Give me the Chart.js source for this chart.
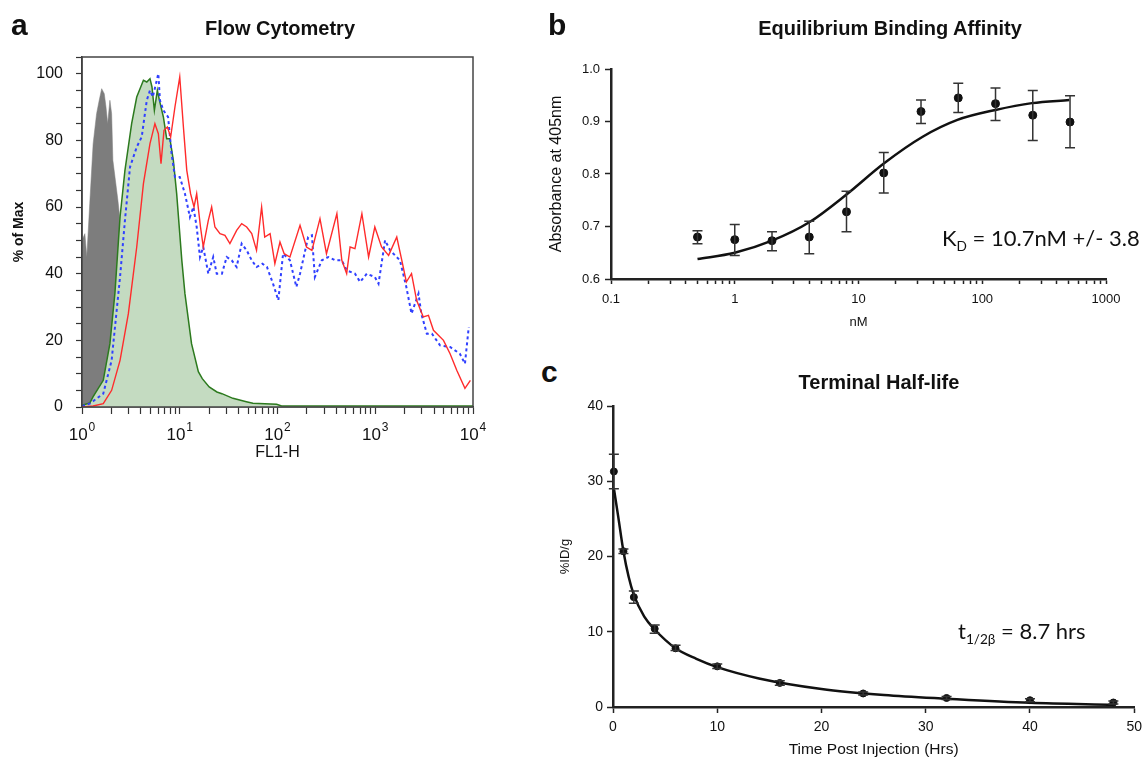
<!DOCTYPE html>
<html>
<head>
<meta charset="utf-8">
<title>Flow cytometry, binding affinity and half-life</title>
<script src="https://cdn.jsdelivr.net/npm/chart.js@4.4.0/dist/chart.umd.min.js"></script>
<style>
  body { margin: 0; background: #fff; }
  #page { position: relative; width: 1148px; height: 761px; overflow: hidden;
          font-family: "Liberation Sans", Arial, sans-serif; color: #111; }
  canvas { position: absolute; }
  .lbl { position: absolute; line-height: 1; white-space: nowrap; z-index: 2; }
  .letter { font-weight: bold; font-size: 30px; }
  .title { font-weight: bold; font-size: 20px; transform: translateX(-50%); }
  .note { font-family: Lato, "Open Sans", sans-serif; font-size: 22px; }
  .note sub { font-size: 62%; vertical-align: -0.35em; line-height: 0; }
</style>
</head>
<body>
<div id="page">
  <canvas id="flowChart" width="500" height="480" style="left:0;top:0;width:500px;height:480px"></canvas>
  <canvas id="bindChart" width="608" height="340" style="left:540px;top:0;width:608px;height:340px"></canvas>
  <canvas id="halfChart" width="608" height="371" style="left:540px;top:390px;width:608px;height:371px"></canvas>

  <div class="lbl letter" style="left:11px;top:10px">a</div>
  <div class="lbl title" style="left:280px;top:18px">Flow Cytometry</div>
  <div class="lbl letter" style="left:548px;top:10px">b</div>
  <div class="lbl title" style="left:890px;top:18px">Equilibrium Binding Affinity</div>
  <div class="lbl letter" style="left:541px;top:357px">c</div>
  <div class="lbl title" style="left:879px;top:372px">Terminal Half-life</div>
  <div class="lbl note" style="left:942px;top:227px">K<sub>D</sub> = 10.7nM +/- 3.8</div>
  <div class="lbl note" style="left:958px;top:620px">t<sub>1/2β</sub> = 8.7 hrs</div>
</div>

<script>
// ---- panel a: flow cytometry histograms (x = FL1-H, y = % of max)
const grayX = [1.0, 1.07, 1.12, 1.2, 1.3, 1.41, 1.5, 1.59, 1.69, 1.76, 1.83, 1.93, 2.01, 2.07, 2.33, 2.75, 3.1, 3.5, 3.9, 4.4];
const grayY = [50, 52, 45, 61, 79, 88, 92, 95.5, 94, 90, 85, 92, 88, 74, 62, 42, 22, 8, 2, 0];

const greenX = [1.0, 1.2, 1.3, 1.65, 1.93, 2.17, 2.45, 2.75, 3.22, 3.63, 4.25, 4.6, 4.96, 5.2, 5.5, 5.9, 6.2, 6.8, 7.35, 7.93, 8.6, 9.3,
                10, 10.5, 11.3, 13.2, 15.5, 17, 20, 24, 27, 35, 48, 56, 98, 110, 10000];
const greenY = [0.5, 1.2, 3.1, 8, 19, 34, 57, 71, 85, 93, 98, 97.5, 98.5, 96, 89, 95, 92, 87, 80.5, 80.5, 74, 64,
                52, 44, 34, 19, 10.6, 8.5, 6, 4.5, 4, 2.6, 1.6, 1.1, 0.8, 0.3, 0.3];

const blueX = [1.0, 1.2, 1.65, 2.01, 2.45, 2.75, 3.1, 3.63, 4.08, 4.6, 4.96, 5.3, 6.04, 6.27, 6.8, 7.6, 8.25, 8.93, 10, 11.3,
               12.7, 13.8, 14.9, 16.1, 17.4, 19.6, 22, 23.9, 27, 30.2, 34, 38.2, 43, 48.4, 54.5, 61, 70, 78, 90, 102,
               114, 134, 156, 170, 206, 225, 241, 284, 331, 390, 455, 510, 620, 700, 820, 990, 1080, 1260, 1420, 1790,
               2080, 2350, 2770, 2960, 3370, 3800, 4600, 5830, 7330, 8270, 9050];
const blueY = [0.3, 1, 4, 14, 39, 56, 72, 78, 81, 92, 95, 93, 100, 92, 89, 87, 76, 69, 69, 64,
               57, 60, 54, 45, 48, 40, 45, 40, 40, 45, 44, 42, 49, 47, 44, 42, 43, 42, 37, 32,
               46, 44, 36, 40, 51, 51.5, 39, 44, 45, 44, 44, 41, 40, 37.5, 40, 39, 37, 50, 47, 44,
               36, 28, 34, 28, 22, 22, 18.5, 18, 16, 13, 24];

const redX = [1.0, 1.3, 1.65, 2.01, 2.45, 2.98, 3.63, 4.25, 4.96, 5.57, 6.04, 6.43, 6.9, 7.47, 8.07, 8.93, 10, 10.9, 11.8, 12.9,
              14, 14.9, 16.3, 17.4, 19.6, 21.2, 22.9, 25.8, 29, 32.6, 38.2, 43, 48.4, 54.5, 61, 68.8, 74, 84, 94, 106,
              117, 134, 170, 198, 225, 272, 317, 405, 455, 510, 553, 620, 730, 855, 990, 1160, 1370, 1660, 1870, 2080,
              2350, 2650, 3100, 3500, 3940, 4990, 5830, 6820, 8270, 9400];
const redY = [0, 0.3, 1, 5, 14, 28, 48, 67, 79, 85, 82, 73, 83, 84, 81, 90, 99, 84, 71, 64,
              60, 64, 54, 48, 56, 60, 54, 52, 51.5, 49, 53, 55, 54, 52, 47, 60, 51, 52, 43, 49.5,
              46, 45, 54.5, 48, 47, 56.5, 46, 58, 44, 40, 48, 47.5, 58, 45, 54, 48, 45.5, 51, 44, 37.5,
              40, 32, 27, 27.5, 23, 20, 16, 11, 5.6, 8];

const flowDecades = [1, 10, 100, 1000, 10000];
const flowExponents = ['0', '1', '2', '3', '4'];

// ---- panel b: equilibrium binding (x = nM, y = absorbance at 405nm)
const bindX = [0.5, 1, 2, 4, 8, 16, 32, 64, 128, 256, 512];
const bindY = [0.680, 0.675, 0.673, 0.680, 0.728, 0.802, 0.919, 0.945, 0.934, 0.912, 0.899];
const bindLo = [0.667, 0.645, 0.654, 0.648, 0.690, 0.764, 0.896, 0.917, 0.902, 0.864, 0.850];
const bindHi = [0.692, 0.704, 0.690, 0.710, 0.767, 0.841, 0.941, 0.973, 0.964, 0.959, 0.949];
const bindFitX = [0.5, 1, 2, 4, 8, 16, 33, 63, 128, 252, 505];
const bindFitY = [0.638, 0.650, 0.673, 0.708, 0.761, 0.820, 0.871, 0.903, 0.922, 0.935, 0.941];
const bindDecades = [0.1, 1, 10, 100, 1000];
const bindDecadeLabels = ['0.1', '1', '10', '100', '1000'];

// ---- panel c: terminal half-life (x = hours, y = %ID/g)
const timeX = [0.083, 1, 2, 4, 6, 10, 16, 24, 32, 40, 48];
const idY = [31.3, 20.7, 14.6, 10.4, 7.8, 5.4, 3.2, 1.8, 1.2, 0.9, 0.6];
const idLo = [29.0, 20.4, 13.8, 9.8, 7.5, 5.1, 2.9, 1.6, 1.0, 0.7, 0.4];
const idHi = [33.6, 21.0, 15.4, 10.9, 8.2, 5.7, 3.5, 2.0, 1.4, 1.1, 0.8];
const idFitX = [0.1, 0.5, 1, 1.5, 2, 3, 4, 6, 8, 10, 14, 20, 26, 32, 40, 48];
const idFitY = [28.9, 25.3, 20.7, 17.3, 14.9, 12.0, 10.3, 7.8, 6.4, 5.3, 3.8, 2.4, 1.6, 1.1, 0.55, 0.3];

const FONT = '"Liberation Sans", Arial, sans-serif';
Chart.defaults.font.family = FONT;
Chart.defaults.color = '#111';

function pts(xs, ys) {
  return xs.map((x, i) => ({ x: x, y: ys[i] }));
}

// 1..9 per decade, for the log axes
function logTicks(lo, hi) {
  const t = [];
  for (let e = lo; e < hi; e++) {
    for (let m = 1; m < 10; m++) t.push(m * Math.pow(10, e));
  }
  t.push(Math.pow(10, hi));
  return t;
}

function errorBars(xs, lo, hi, cap) {
  return {
    id: 'errorBars',
    afterDatasetsDraw(chart) {
      const { ctx, scales: { x, y } } = chart;
      ctx.save();
      ctx.strokeStyle = '#333';
      ctx.lineWidth = 1.5;
      xs.forEach((xv, i) => {
        const px = x.getPixelForValue(xv);
        const top = y.getPixelForValue(hi[i]);
        const bot = y.getPixelForValue(lo[i]);
        ctx.beginPath();
        ctx.moveTo(px, top); ctx.lineTo(px, bot);
        ctx.moveTo(px - cap, top); ctx.lineTo(px + cap, top);
        ctx.moveTo(px - cap, bot); ctx.lineTo(px + cap, bot);
        ctx.stroke();
      });
      ctx.restore();
    }
  };
}

// box around the histogram plot
const frame = {
  id: 'frame',
  afterDraw(chart) {
    const { ctx, chartArea: a } = chart;
    ctx.save();
    ctx.strokeStyle = '#444';
    ctx.lineWidth = 1.5;
    ctx.strokeRect(a.left, a.top, a.right - a.left, a.bottom - a.top);
    ctx.restore();
  }
};

// "10" with a raised exponent under each decade tick
const powerLabels = {
  id: 'powerLabels',
  afterDraw(chart) {
    const { ctx, scales: { x } } = chart;
    const base = x.top + 33;
    ctx.save();
    ctx.fillStyle = '#111';
    ctx.textAlign = 'left';
    ctx.textBaseline = 'alphabetic';
    flowDecades.forEach((v, i) => {
      const px = x.getPixelForValue(v);
      ctx.font = '17px ' + FONT;
      const wb = ctx.measureText('10').width;
      ctx.font = '12px ' + FONT;
      const we = ctx.measureText(flowExponents[i]).width;
      const left = px - (wb + we + 1) / 2;
      ctx.font = '17px ' + FONT;
      ctx.fillText('10', left, base);
      ctx.font = '12px ' + FONT;
      ctx.fillText(flowExponents[i], left + wb + 1, base - 9);
    });
    ctx.restore();
  }
};

function initFlowChart() {
  const ctx = document.getElementById('flowChart');
  const xTicks = logTicks(0, 4);
  new Chart(ctx, {
    type: 'line',
    data: {
      datasets: [
        { label: 'Red', data: pts(redX, redY), borderColor: '#ff2b2b', borderWidth: 1.4,
          pointRadius: 0, fill: false, order: 0 },
        { label: 'Blue', data: pts(blueX, blueY), borderColor: '#3040ff', borderWidth: 2,
          borderDash: [3, 3], pointRadius: 0, fill: false, order: 1 },
        { label: 'Green', data: pts(greenX, greenY), borderColor: '#2c7a1e', borderWidth: 1.5,
          backgroundColor: '#c4dbc1', pointRadius: 0, fill: 'origin', order: 2 },
        { label: 'Gray', data: pts(grayX, grayY), borderColor: '#7d7d7d', borderWidth: 0.5,
          backgroundColor: '#7d7d7d', pointRadius: 0, fill: 'origin', order: 3 }
      ]
    },
    options: {
      responsive: false,
      animation: false,
      layout: { padding: { left: 0, top: 57, right: 27, bottom: 0 } },
      scales: {
        x: {
          type: 'logarithmic', min: 1, max: 10000,
          afterBuildTicks: s => { s.ticks = xTicks.map(v => ({ value: v })); },
          afterFit: s => { s.height = 73; },
          ticks: { autoSkip: false, maxRotation: 0, callback: () => '' },
          grid: { drawOnChartArea: false, tickLength: 7, tickColor: '#333', tickWidth: 1.2 },
          border: { color: '#333', width: 1.5 },
          title: { display: true, text: 'FL1-H', font: { size: 16 }, padding: { top: 0, bottom: 18 } }
        },
        y: {
          min: 0, max: 105,
          afterFit: s => { s.width = 82; },
          ticks: {
            stepSize: 5, autoSkip: false, includeBounds: false, padding: 13, font: { size: 16 },
            callback: v => (v % 20 === 0 ? v : '')
          },
          grid: { drawOnChartArea: false, tickLength: 6, tickColor: '#333', tickWidth: 1.2 },
          border: { color: '#333', width: 1.5 },
          title: { display: true, text: '% of Max', font: { size: 14, weight: 'bold' }, padding: { top: 11, bottom: 0 } }
        }
      },
      plugins: { legend: { display: false }, tooltip: { enabled: false } }
    },
    plugins: [frame, powerLabels]
  });
}

function initBindChart() {
  const ctx = document.getElementById('bindChart');
  const xTicks = logTicks(-1, 3);
  new Chart(ctx, {
    type: 'line',
    data: {
      datasets: [
        { label: 'Absorbance', data: pts(bindX, bindY), showLine: false, pointRadius: 4,
          pointBackgroundColor: '#111', pointBorderColor: '#111', clip: false },
        { label: 'Fit', data: pts(bindFitX, bindFitY), borderColor: '#111', borderWidth: 2.5,
          pointRadius: 0, tension: 0.4, cubicInterpolationMode: 'monotone' }
      ]
    },
    options: {
      responsive: false,
      animation: false,
      layout: { padding: { left: 0, top: 69, right: 42, bottom: 0 } },
      scales: {
        x: {
          type: 'logarithmic', min: 0.1, max: 1000,
          afterBuildTicks: s => { s.ticks = xTicks.map(v => ({ value: v })); },
          afterFit: s => { s.height = 61; },
          ticks: {
            autoSkip: false, maxRotation: 0, padding: 8, font: { size: 13 },
            callback: v => { const i = bindDecades.indexOf(v); return i < 0 ? '' : bindDecadeLabels[i]; }
          },
          grid: { drawOnChartArea: false, tickLength: 5, tickColor: '#222', tickWidth: 1.5 },
          border: { color: '#222', width: 2.5 },
          title: { display: true, text: 'nM', font: { size: 13 }, padding: { top: 0, bottom: 10 } }
        },
        y: {
          min: 0.6, max: 1.0,
          afterFit: s => { s.width = 71; },
          ticks: { stepSize: 0.1, padding: 5, font: { size: 13 }, callback: v => v.toFixed(1) },
          grid: { drawOnChartArea: false, tickLength: 6, tickColor: '#222', tickWidth: 1.5 },
          border: { color: '#222', width: 2.5 },
          title: { display: true, text: 'Absorbance at 405nm', font: { size: 16 }, padding: { top: 7, bottom: 0 } }
        }
      },
      plugins: { legend: { display: false }, tooltip: { enabled: false } }
    },
    plugins: [errorBars(bindX, bindLo, bindHi, 5)]
  });
}

function initHalfChart() {
  const ctx = document.getElementById('halfChart');
  new Chart(ctx, {
    type: 'line',
    data: {
      datasets: [
        { label: '%ID/g', data: pts(timeX, idY), showLine: false, pointRadius: 3.5,
          pointBackgroundColor: '#111', pointBorderColor: '#111', clip: false },
        { label: 'Fit', data: pts(idFitX, idFitY), borderColor: '#111', borderWidth: 2.5,
          pointRadius: 0, tension: 0.4, cubicInterpolationMode: 'monotone' }
      ]
    },
    options: {
      responsive: false,
      animation: false,
      layout: { padding: { left: 0, top: 16, right: 7, bottom: 0 } },
      scales: {
        x: {
          type: 'linear', min: 0, max: 50,
          afterFit: s => { s.height = 54; },
          ticks: { stepSize: 10, maxRotation: 0, padding: 6, font: { size: 14 } },
          grid: { drawOnChartArea: false, tickLength: 6, tickColor: '#222', tickWidth: 1.5 },
          border: { color: '#222', width: 2.5 },
          title: { display: true, text: 'Time Post Injection (Hrs)', font: { size: 15.5 }, padding: { top: 0, bottom: 2 } }
        },
        y: {
          min: 0, max: 40,
          afterFit: s => { s.width = 73; },
          ticks: { stepSize: 10, padding: 4, font: { size: 14 } },
          grid: { drawOnChartArea: false, tickLength: 6, tickColor: '#222', tickWidth: 1.5 },
          border: { color: '#222', width: 2.5 },
          title: { display: true, text: '%ID/g', font: { size: 13 }, padding: { top: 18, bottom: 0 } }
        }
      },
      plugins: { legend: { display: false }, tooltip: { enabled: false } }
    },
    plugins: [errorBars(timeX, idLo, idHi, 5)]
  });
}

initFlowChart();
initBindChart();
initHalfChart();
</script>
</body>
</html>
